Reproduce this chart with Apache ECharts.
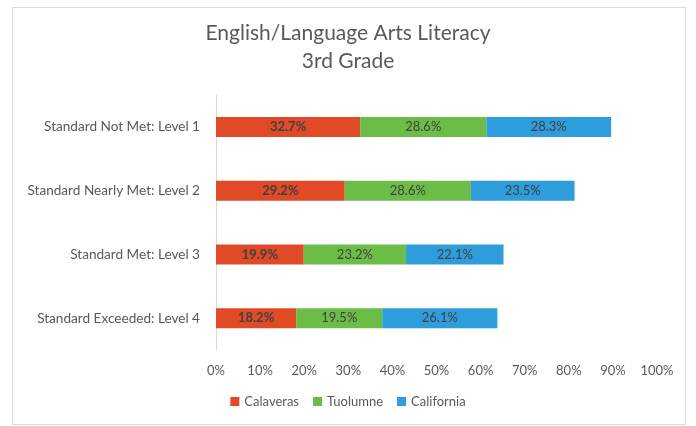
<!DOCTYPE html>
<html>
<head>
<meta charset="utf-8">
<script src="https://cdn.jsdelivr.net/npm/echarts@6/dist/echarts.min.js"></script>
<style>
  html, body { margin: 0; padding: 0; background: #fff; }
  #chart { width: 696px; height: 426px; }
  .frame { position: absolute; left: 12px; top: 7px; width: 672px; height: 416px; border: 1px solid #d9d9d9; pointer-events: none; }
</style>
</head>
<body>
<div id="chart"></div>
<div class="frame"></div>
<script>
const categories = ['Standard Not Met: Level 1', 'Standard Nearly Met: Level 2', 'Standard Met: Level 3', 'Standard Exceeded: Level 4'];
const calaveras = [32.7, 29.2, 19.9, 18.2];
const tuolumne = [28.6, 28.6, 23.2, 19.5];
const california = [28.3, 23.5, 22.1, 26.1];
const ticks = [0, 10, 20, 30, 40, 50, 60, 70, 80, 90, 100];

const font = 'Lato, "Open Sans", sans-serif';
const myChart = echarts.init(document.getElementById('chart'));

function mkSeries(name, data, color, bold) {
    return {
        name: name,
        type: 'bar',
        stack: 'total',
        barWidth: 20,
        data: data,
        itemStyle: { color: color },
        label: {
            show: true,
            position: 'inside',
            formatter: p => p.value.toFixed(1) + '%',
            color: '#404040',
            fontFamily: font,
            fontSize: 13,
            fontWeight: bold ? 'bold' : 'normal'
        }
    };
}

const option = {
    animation: false,
    title: {
        text: 'English/Language Arts Literacy\n3rd Grade',
        left: 'center',
        top: 14,
        textStyle: { color: '#595959', fontFamily: font, fontSize: 21, fontWeight: 'normal', lineHeight: 28 }
    },
    legend: {
        bottom: 13,
        left: 'center',
        itemWidth: 9,
        itemHeight: 9,
        itemGap: 14,
        icon: 'rect',
        textStyle: { color: '#595959', fontFamily: font, fontSize: 13 },
        data: ['Calaveras', 'Tuolumne', 'California']
    },
    grid: { left: 216, right: 39, top: 95, bottom: 76, containLabel: false },
    xAxis: {
        type: 'value',
        min: 0,
        max: 100,
        interval: 10,
        axisLine: { show: false },
        axisTick: { show: false },
        splitLine: { show: false },
        axisLabel: {
            color: '#595959', fontFamily: font, fontSize: 13, margin: 14,
            formatter: v => ticks.includes(v) ? v + '%' : ''
        }
    },
    yAxis: {
        type: 'category',
        inverse: true,
        data: categories,
        axisLine: { lineStyle: { color: '#d9d9d9' } },
        axisTick: { show: false },
        axisLabel: { color: '#595959', fontFamily: font, fontSize: 13.6, margin: 16 }
    },
    series: [
        mkSeries('Calaveras', calaveras, '#e14a26', true),
        mkSeries('Tuolumne', tuolumne, '#6bbd47', false),
        mkSeries('California', california, '#2e9ddb', false)
    ]
};
myChart.setOption(option);
</script>
</body>
</html>
